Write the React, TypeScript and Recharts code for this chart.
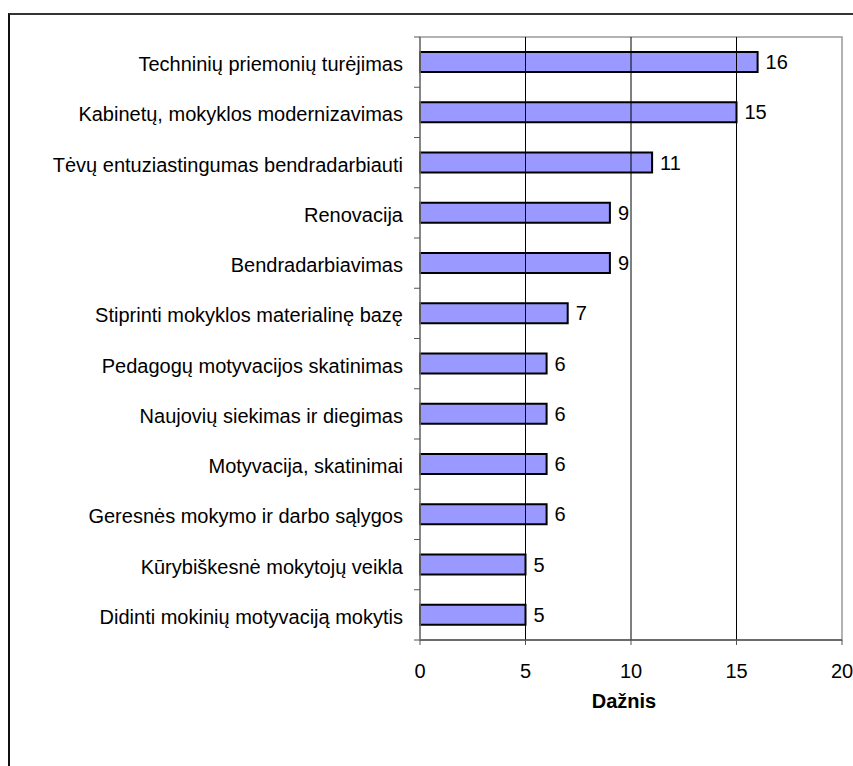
import React from 'react';
import {
  BarChart,
  Bar,
  XAxis,
  YAxis,
  LabelList,
  ReferenceLine,
  ReferenceArea,
} from 'recharts';

// Survey answers: what helps the school improve, with how often each was named
const categories = [
  'Techninių priemonių turėjimas',
  'Kabinetų, mokyklos modernizavimas',
  'Tėvų entuziastingumas bendradarbiauti',
  'Renovacija',
  'Bendradarbiavimas',
  'Stiprinti mokyklos materialinę bazę',
  'Pedagogų motyvacijos skatinimas',
  'Naujovių siekimas ir diegimas',
  'Motyvacija, skatinimai',
  'Geresnės mokymo ir darbo sąlygos',
  'Kūrybiškesnė mokytojų veikla',
  'Didinti mokinių motyvaciją mokytis',
];
const frequencies = [16, 15, 11, 9, 9, 7, 6, 6, 6, 6, 5, 5];
const xTicks = [0, 5, 10, 15, 20];
const axisTitle = 'Dažnis';

const data = categories.map((name, i) => ({ name, value: frequencies[i] }));

const W = 853;
const H = 766;
const MARGIN = { top: 37, right: 11, bottom: 46, left: 0 };
const Y_AXIS_W = 420;
const X_AXIS_H = 80;
const PLOT_H = H - MARGIN.top - MARGIN.bottom - X_AXIS_H;
const BAND = PLOT_H / categories.length;

const FONT = '"Liberation Sans", Arial, sans-serif';
const TICK_SIZE = 6;
const TICK_MARGIN = 11;

// Category label plus the short tick marks that sit on the band boundaries
const CategoryTick = (props: any) => {
  const { x, y, payload, index } = props;
  const axisX = x + TICK_SIZE + TICK_MARGIN;
  const last = index === categories.length - 1;
  return (
    <g>
      <line x1={axisX - TICK_SIZE} x2={axisX} y1={y - BAND / 2} y2={y - BAND / 2} stroke="#555" strokeWidth={1} />
      {last && (
        <line x1={axisX - TICK_SIZE} x2={axisX} y1={y + BAND / 2} y2={y + BAND / 2} stroke="#555" strokeWidth={1} />
      )}
      <text x={x} y={y} dy={9} textAnchor="end" fontFamily={FONT} fontSize={20} fill="#000">
        {payload.value}
      </text>
    </g>
  );
};

export default function App() {
  return (
    <div style={{ position: 'absolute', left: 0, top: 0, width: W, height: H, overflow: 'hidden', background: '#fff' }}>
      <div
        style={{
          position: 'absolute',
          left: 8,
          top: 13,
          width: W + 20,
          height: H + 20,
          borderTop: '2px solid #333',
          borderLeft: '2px solid #111',
          boxSizing: 'border-box',
        }}
      />
      <div style={{ position: 'absolute', left: 0, top: 0 }}>
        <BarChart width={W} height={H} data={data} layout="vertical" margin={MARGIN} barSize={20}>
          <ReferenceArea x1={0} x2={20} fill="none" stroke="#999" strokeWidth={1.5} ifOverflow="visible" />
          {xTicks
            .filter((t) => t > 0 && t < 20)
            .map((t) => (
              <ReferenceLine key={t} x={t} stroke="#000" strokeWidth={1} />
            ))}
          <XAxis
            type="number"
            domain={[0, 20]}
            ticks={xTicks}
            height={X_AXIS_H}
            axisLine={{ stroke: '#555', strokeWidth: 1.5 }}
            tickLine={{ stroke: '#555' }}
            tickSize={5}
            tickMargin={19}
            tick={{ fontFamily: FONT, fontSize: 20, fill: '#000' }}
            interval={0}
            label={{
              value: axisTitle,
              position: 'insideTop',
              offset: 54,
              dx: -7,
              style: { fontFamily: FONT, fontSize: 20, fontWeight: 'bold', fill: '#000' },
            }}
          />
          <YAxis
            type="category"
            dataKey="name"
            width={Y_AXIS_W}
            axisLine={{ stroke: '#777', strokeWidth: 1.5 }}
            tickLine={false}
            tickSize={TICK_SIZE}
            tickMargin={TICK_MARGIN}
            tick={<CategoryTick />}
            interval={0}
          />
          <Bar dataKey="value" fill="#9999FF" stroke="#000" strokeWidth={2} isAnimationActive={false}>
            <LabelList
              dataKey="value"
              position="right"
              offset={8}
              style={{ fontFamily: FONT, fontSize: 20, fill: '#000' }}
            />
          </Bar>
        </BarChart>
      </div>
    </div>
  );
}
